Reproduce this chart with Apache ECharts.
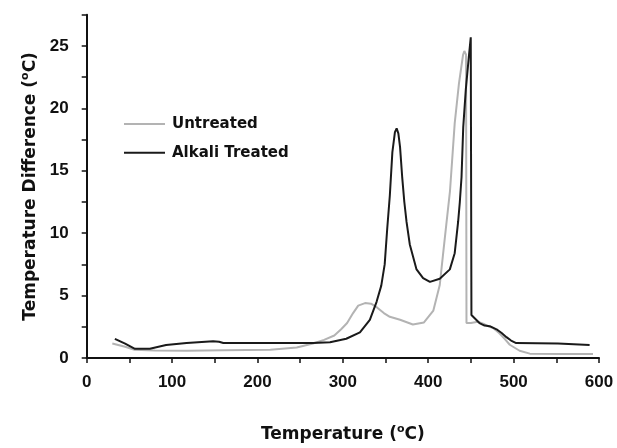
<!DOCTYPE html>
<html><head><meta charset="utf-8">
<script src="https://cdn.jsdelivr.net/npm/echarts@6/dist/echarts.min.js"></script>
<style>html,body{margin:0;padding:0;background:#fff}#c{width:617px;height:448px}</style>
</head><body><div id="c"></div>
<script>
var seriesNames = ['Untreated', 'Alkali Treated'];
var xTicks = [0, 100, 200, 300, 400, 500, 600];
var yTicks = [0, 5, 10, 15, 20, 25];

var untreatedT = [30, 45, 56, 80, 117, 160, 215, 246, 265, 278, 290, 298, 305, 312, 318, 326, 333, 340, 348, 355, 367, 382, 395, 406, 413.5, 417.5, 421.5, 425.5, 431, 436, 440.8, 442.3, 444.3, 444.8, 450, 458, 466, 472, 476, 483, 490, 495.5, 507, 519, 560, 593];
var untreatedV = [1.16, 0.9, 0.66, 0.6, 0.58, 0.62, 0.66, 0.84, 1.16, 1.45, 1.8, 2.3, 2.8, 3.6, 4.2, 4.4, 4.35, 4.05, 3.6, 3.3, 3.06, 2.68, 2.85, 3.8, 5.85, 8.4, 10.9, 13.4, 18.8, 22, 24.3, 24.6, 24.3, 2.8, 2.8, 2.9, 2.7, 2.5, 2.4, 2.0, 1.5, 1.06, 0.58, 0.35, 0.33, 0.33];

var alkaliT = [33, 45, 56.5, 74, 76, 93, 117, 148, 155, 160, 200, 265, 285, 304, 320, 331.6, 339.5, 345, 349, 352, 355, 358, 361, 363, 365, 367, 369.5, 372, 374.6, 378.4, 386.3, 394, 402, 413.5, 425.3, 431, 435, 437, 439, 441, 444, 447.5, 449.8, 450.4, 450.6, 452.5, 460, 466, 472, 480, 486, 491.6, 497, 503, 552, 553, 589];
var alkaliV = [1.54, 1.15, 0.74, 0.74, 0.9, 1.04, 1.2, 1.34, 1.3, 1.2, 1.2, 1.2, 1.27, 1.54, 2.05, 3.06, 4.5, 5.8, 7.5, 10.4, 13, 16.5, 18.1, 18.4, 18.0, 16.9, 14.5, 12.5, 10.9, 9.1, 7.1, 6.4, 6.1, 6.35, 7.1, 8.4, 10.9, 12.5, 14.5, 18.5, 21.5, 24.1, 25.7, 25.7, 3.44, 3.3, 2.8, 2.6, 2.55, 2.3, 2.0, 1.67, 1.4, 1.2, 1.16, 1.04, 1.04];

function pairs(a, b) { return a.map(function (t, i) { return [t, b[i]]; }); }

var TICKFONT = '"Liberation Sans Narrow", "Liberation Sans", sans-serif';
var TITLEFONT = '"DejaVu Sans", sans-serif';
var chart = echarts.init(document.getElementById('c'), null, {renderer: 'canvas'});
var axisCommon = {
  axisLine: {show: true, lineStyle: {color: '#111', width: 2}},
  axisTick: {show: true, inside: false, length: 5, lineStyle: {color: '#111', width: 1.5}},
  minorTick: {show: true, splitNumber: 2, length: 5, lineStyle: {color: '#111', width: 1.5}},
  splitLine: {show: false},
  axisLabel: {color: '#111', fontFamily: TICKFONT, fontWeight: 'bold', fontSize: 17}
};
var nameRich = {
  a: {fontFamily: TITLEFONT, fontWeight: 'bold', fontSize: 17, color: '#111'},
  s: {fontFamily: TITLEFONT, fontWeight: 'bold', fontSize: 11, color: '#111', padding: [0, 0, 10, 0]}
};
chart.setOption({
  animation: false,
  backgroundColor: '#fff',
  grid: {left: 86.7, right: 18, top: 14.8, bottom: 71.3},
  legend: {
    orient: 'vertical', left: 124, top: 115, padding: 0, icon: 'rect',
    itemWidth: 41, itemHeight: 2, itemGap: 10.7,
    textStyle: {fontFamily: TITLEFONT, fontWeight: 'bold', fontSize: 15, lineHeight: 18, color: '#111', padding: [0, 0, 0, 2]},
    data: seriesNames
  },
  xAxis: Object.assign({}, axisCommon, {
    type: 'value', min: xTicks[0], max: xTicks[xTicks.length - 1], interval: 100,
    name: '{a|Temperature (}{s|o}{a|C)}', nameLocation: 'middle', nameGap: 66,
    nameTextStyle: {rich: nameRich},
    axisLabel: Object.assign({}, axisCommon.axisLabel, {margin: 16})
  }),
  yAxis: Object.assign({}, axisCommon, {
    type: 'value', min: yTicks[0], max: 27.5, interval: 5,
    name: '{a|Temperature Difference (}{s|o}{a|C)}', nameLocation: 'middle', nameGap: 46, nameRotate: 90,
    nameTextStyle: {rich: nameRich},
    axisLabel: Object.assign({}, axisCommon.axisLabel, {margin: 18, showMaxLabel: false,
      formatter: function (v) { return yTicks.indexOf(v) >= 0 ? String(v) : ''; }})
  }),
  series: [
    {name: seriesNames[0], type: 'line', symbol: 'none', data: pairs(untreatedT, untreatedV),
     lineStyle: {color: '#b3b3b3', width: 2}, itemStyle: {color: '#b3b3b3'}, z: 2},
    {name: seriesNames[1], type: 'line', symbol: 'none', data: pairs(alkaliT, alkaliV),
     lineStyle: {color: '#1a1a1a', width: 2}, itemStyle: {color: '#1a1a1a'}, z: 3}
  ]
});
</script></body></html>
